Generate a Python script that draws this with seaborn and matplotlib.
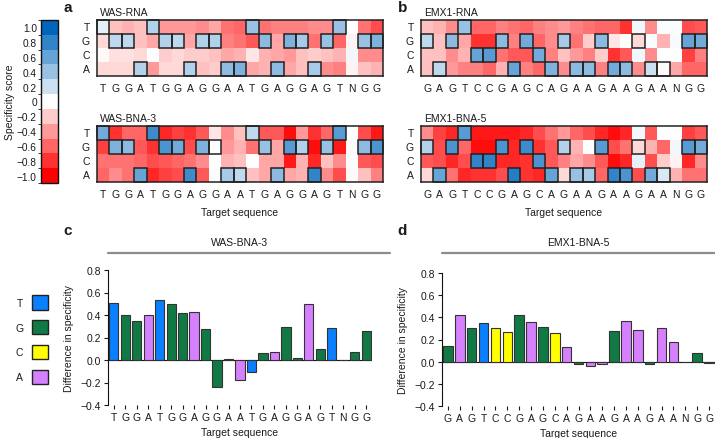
import numpy as np
import pandas as pd
import matplotlib
matplotlib.use("Agg")
import matplotlib.pyplot as plt
import seaborn as sns
from matplotlib.colors import LinearSegmentedColormap, ListedColormap, BoundaryNorm
from matplotlib.cm import ScalarMappable
from matplotlib.patches import Rectangle, Patch

# ---------------- data ----------------
bases = ["T", "G", "C", "A"]
was_seq = list("TGGATGGAGGAATGAGGAGTNGG")
emx_seq = list("GAGTCCGAGCAGAAGAAGAANGG")

was_rna_T = [0.1,-0.25,-0.3,-0.25,0.3,-0.4,-0.4,-0.4,-0.45,-0.35,-0.55,-0.6,0.4,-0.55,-0.5,-0.5,-0.5,-0.45,-0.45,0.4,0.0,-0.55,-0.7]
was_rna_G = [-0.15,0.25,0.25,-0.25,-0.35,0.3,0.25,-0.35,0.3,0.3,-0.5,-0.55,-0.65,0.45,-0.35,0.5,0.35,-0.55,0.4,-0.6,-0.05,0.4,0.5]
was_rna_C = [-0.03,-0.12,-0.12,-0.15,0.0,-0.2,-0.15,-0.2,-0.2,-0.25,-0.35,-0.3,-0.1,-0.3,-0.35,-0.4,-0.25,-0.2,-0.25,-0.3,0.05,-0.45,-0.45]
was_rna_A = [-0.15,-0.15,-0.15,0.3,-0.4,-0.15,-0.15,0.3,-0.25,-0.2,0.45,0.5,-0.35,-0.3,0.45,-0.35,-0.25,0.35,-0.45,-0.5,-0.05,-0.25,-0.3]

was_bna_T = [0.55,-0.8,-0.6,-0.6,0.75,-0.85,-0.75,-0.8,-0.65,-0.1,-0.45,-0.25,0.25,-0.65,-0.65,-0.95,-0.4,-0.8,-0.6,0.65,0.0,-0.7,-0.9]
was_bna_G = [-0.75,0.5,0.45,-0.65,-0.8,0.7,0.55,-0.7,0.5,0.0,-0.4,-0.3,-0.55,0.4,-0.35,0.65,0.3,-0.95,0.4,-0.9,-0.02,0.45,0.7]
was_bna_C = [-0.55,-0.55,-0.55,-0.6,-0.7,-0.65,-0.6,-0.55,-0.45,0.0,-0.3,-0.25,0.0,-0.35,-0.35,-0.9,-0.3,-0.85,-0.25,-0.45,0.02,-0.65,-0.7]
was_bna_A = [-0.6,-0.45,-0.55,0.6,-0.85,-0.75,-0.7,0.75,-0.65,0.02,0.35,0.25,-0.25,-0.35,0.45,-0.35,-0.3,0.8,-0.45,-0.7,-0.03,-0.25,-0.5]

emx_rna_T = [-0.25,-0.3,-0.45,0.4,-0.6,-0.6,-0.5,-0.55,-0.6,-0.5,-0.45,-0.4,-0.5,-0.55,-0.6,-0.6,-0.8,0.05,-0.45,0.02,0.02,-0.7,-0.65]
emx_rna_G = [0.25,-0.25,0.45,-0.35,-0.8,-0.8,0.45,-0.5,0.55,-0.6,-0.45,0.35,-0.55,-0.2,0.45,-0.1,0.0,-0.15,0.02,-0.3,0.03,0.6,0.55]
emx_rna_C = [-0.25,-0.25,-0.45,-0.3,0.6,0.65,-0.55,-0.65,-0.65,0.55,-0.5,-0.25,-0.4,-0.5,-0.2,-0.8,-0.65,0.05,-0.45,0.0,0.0,-0.75,-0.5]
emx_rna_A = [-0.25,0.25,-0.4,-0.5,-0.5,-0.6,-0.3,0.6,-0.5,-0.6,0.5,-0.45,0.45,0.45,-0.5,0.55,0.45,-0.45,0.2,-0.02,-0.35,-0.6,-0.6]

emx_bna_T = [-0.45,-0.75,-0.85,0.65,-0.9,-0.9,-0.9,-0.9,-0.85,-0.7,-0.55,-0.4,-0.6,-0.7,-0.85,-0.95,-0.85,0.05,-0.65,0.0,0.0,-0.75,-0.65]
emx_bna_G = [0.3,-0.7,0.7,-0.6,-0.95,-0.95,0.7,-0.85,0.75,-0.8,-0.65,0.3,-0.3,0.0,0.65,-0.7,-0.55,-0.15,-0.3,-0.6,0.05,0.65,0.55]
emx_bna_C = [-0.65,-0.7,-0.85,-0.7,0.8,0.8,-0.85,-0.85,-0.8,0.7,-0.65,-0.5,-0.35,-0.45,-0.65,-0.95,-0.85,0.1,-0.7,-0.2,-0.05,-0.85,-0.45]
emx_bna_A = [-0.15,0.6,-0.55,-0.85,-0.8,-0.8,-0.7,0.85,-0.8,-0.85,0.6,-0.15,0.4,0.35,-0.6,0.8,0.7,-0.7,0.55,0.15,-0.3,-0.55,-0.55]

was_diff = [0.51,0.40,0.345,0.40,0.535,0.495,0.42,0.43,0.275,-0.24,0.01,-0.18,-0.105,0.06,0.07,0.29,0.015,0.50,0.10,0.285,0.0,0.07,0.26]
emx_diff = [0.14,0.42,0.305,0.35,0.30,0.27,0.425,0.36,0.31,0.26,0.135,-0.02,-0.04,-0.02,0.28,0.37,0.29,-0.02,0.30,0.18,0.0,0.075,-0.01]

cbar_ticks = [1.0, 0.8, 0.6, 0.4, 0.2, 0.0, -0.2, -0.4, -0.6, -0.8, -1.0]
cbar_labels = ["1.0", "0.8", "0.6", "0.4", "0.2", "0", "\u22120.2", "\u22120.4", "\u22120.6", "\u22120.8", "\u22121.0"]

# ---------------- style ----------------
sns.set_style("white")
plt.rcParams["font.family"] = ["Liberation Sans", "DejaVu Sans"]
plt.rcParams["font.size"] = 7
TXT = "#1a1a1a"
plt.rcParams["text.color"] = TXT
plt.rcParams["axes.labelcolor"] = TXT
plt.rcParams["xtick.color"] = TXT
plt.rcParams["ytick.color"] = TXT

blue_end = np.array([0, 102, 187]) / 255.0
red_end = np.array([255, 0, 0]) / 255.0
cmap = LinearSegmentedColormap.from_list("spec", [red_end, (1, 1, 1), blue_end])

pal = {"T": "#0a80ff", "G": "#117a44", "C": "#ffff00", "A": "#d580ff", "N": "#ffffff"}

W, H = 715, 439
fig = plt.figure(figsize=(W / 100, H / 100), dpi=100)


def fr(x0, y0, x1, y1):
    return [x0 / W, 1 - y1 / H, (x1 - x0) / W, (y1 - y0) / H]


def draw_heat(ax, rows, seq, title, xlabel=None):
    df = pd.DataFrame(rows, index=bases)
    sns.heatmap(df, ax=ax, cmap=cmap, vmin=-1, vmax=1, cbar=False,
                xticklabels=seq, yticklabels=bases, linewidths=0)
    for j, b in enumerate(seq):
        if b in bases:
            i = bases.index(b)
            ax.add_patch(Rectangle((j, i), 1, 1, fill=False, ec="#222222",
                                   lw=1.1, clip_on=False, zorder=5))
    for s in ax.spines.values():
        s.set_visible(True)
        s.set_color("#222222")
        s.set_linewidth(1.1)
    ax.tick_params(length=0, labelsize=7.5, pad=5)
    ax.set_yticklabels(bases, rotation=0)
    ax.set_xticklabels(seq, rotation=0)
    ax.text(0.01, 1.06, title, transform=ax.transAxes, ha="left", va="bottom", fontsize=7.5)
    if xlabel:
        ax.set_xlabel(xlabel, fontsize=7.5, labelpad=6)
    else:
        ax.set_xlabel("")
    ax.set_ylabel("")


ax_a1 = fig.add_axes(fr(97, 21, 383, 77))
draw_heat(ax_a1, [was_rna_T, was_rna_G, was_rna_C, was_rna_A], was_seq, "WAS-RNA")
ax_a2 = fig.add_axes(fr(97, 127, 383, 183))
draw_heat(ax_a2, [was_bna_T, was_bna_G, was_bna_C, was_bna_A], was_seq, "WAS-BNA-3", "Target sequence")
ax_b1 = fig.add_axes(fr(421, 21, 707, 77))
draw_heat(ax_b1, [emx_rna_T, emx_rna_G, emx_rna_C, emx_rna_A], emx_seq, "EMX1-RNA")
ax_b2 = fig.add_axes(fr(421, 127, 707, 183))
draw_heat(ax_b2, [emx_bna_T, emx_bna_G, emx_bna_C, emx_bna_A], emx_seq, "EMX1-BNA-5", "Target sequence")

# discrete colorbar
levels = np.array(cbar_ticks[::-1])
disc_colors = [cmap((v + 1) / 2) for v in levels]
norm = BoundaryNorm(np.linspace(-1.1, 1.1, 12), 11)
cax = fig.add_axes(fr(41, 21, 58, 184))
cb = fig.colorbar(ScalarMappable(norm=norm, cmap=ListedColormap(disc_colors)), cax=cax,
                  ticks=cbar_ticks)
cb.outline.set_edgecolor("#111111")
cb.outline.set_linewidth(1.0)
cax.yaxis.set_ticks_position("left")
cax.yaxis.set_label_position("left")
cax.set_yticklabels(cbar_labels)
cax.tick_params(length=0, labelsize=7.3, pad=3)
cax.set_ylabel("Specificity score", fontsize=7.5, labelpad=1)


def draw_bar(ax, vals, seq, title, line_x1, title_y, line_y):
    df = pd.DataFrame({"pos": list(range(len(seq))), "val": vals, "base": seq})
    sns.barplot(data=df, x="pos", y="val", hue="base", palette=pal, dodge=False,
                width=0.8, edgecolor="#333333", linewidth=0.8, saturation=1,
                legend=False, ax=ax)
    ax.set_xlim(-0.5, len(seq) - 0.5)
    ax.set_ylim(-0.4, 0.8)
    ax.set_yticks([-0.4, -0.2, 0.0, 0.2, 0.4, 0.6, 0.8])
    ax.set_xticks(range(len(seq)))
    ax.set_xticklabels(seq)
    ax.axhline(0, color="#111111", lw=0.8, zorder=0)
    sns.despine(ax=ax, top=True, right=True, bottom=True)
    ax.spines["left"].set_color("#111111")
    ax.spines["left"].set_linewidth(0.8)
    ax.tick_params(axis="both", which="both", direction="out", length=3, width=0.8,
                   labelsize=7.5, pad=2, bottom=True, left=True)
    ax.set_xlabel("Target sequence", fontsize=7.5, labelpad=4)
    ax.set_ylabel("Difference in specificity", fontsize=7.5, labelpad=5)
    ax.plot([0, line_x1], [line_y, line_y], transform=ax.transAxes, clip_on=False,
            color="#8c8c8c", lw=1.6)
    ax.text(0.5, title_y, title, transform=ax.transAxes, ha="center", va="center", fontsize=7.5)


ax_c = fig.add_axes(fr(108, 271, 372, 406))
draw_bar(ax_c, was_diff, was_seq, "WAS-BNA-3", 1.07, 1.21, 1.126)
ax_d = fig.add_axes(fr(442, 274, 715, 407))
draw_bar(ax_d, emx_diff, emx_seq, "EMX1-BNA-5", 1.0, 1.235, 1.15)

# legend
handles = [Patch(facecolor=pal[b], edgecolor="#222222", linewidth=1.0, label=b) for b in bases]
fig.legend(handles=handles, loc="upper left", bbox_to_anchor=(11 / W, 1 - 292 / H),
           frameon=False, markerfirst=False, handlelength=1.6, handleheight=1.75,
           labelspacing=1.0, fontsize=7.5, handletextpad=0.8, borderaxespad=0)

# panel letters
for txt, x, y in [("a", 68, 8), ("b", 403, 8), ("c", 68, 231), ("d", 402, 231)]:
    fig.text(x / W, 1 - y / H, txt, fontsize=11, fontweight="bold", ha="center", va="center")

fig.savefig("out.png", dpi=100)
